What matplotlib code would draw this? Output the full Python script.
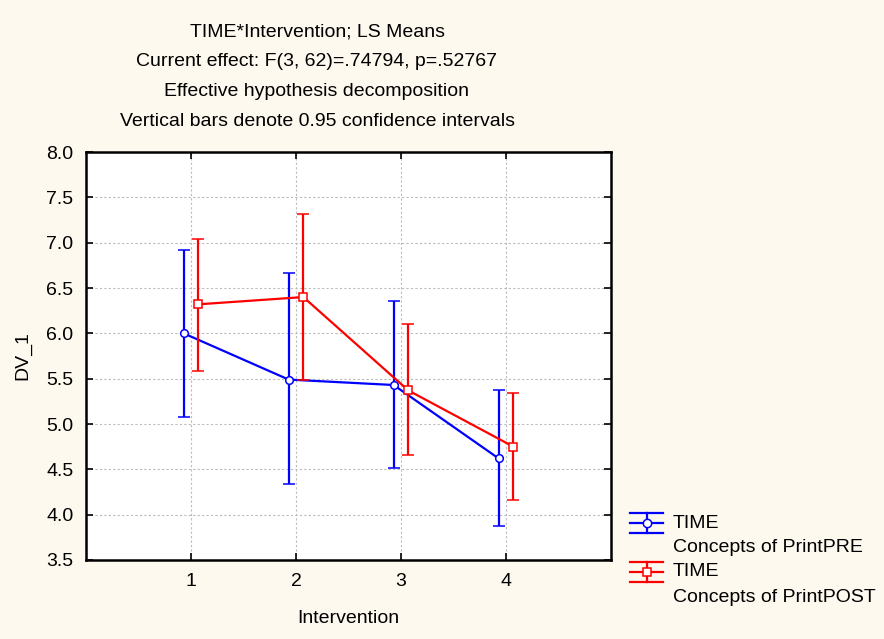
import matplotlib
matplotlib.use("Agg")
import matplotlib.pyplot as plt
from matplotlib.lines import Line2D
import numpy as np

plt.rcParams['font.family'] = ['Liberation Sans', 'DejaVu Sans']

interventions = [1, 2, 3, 4]
pre_mean = [6.00, 5.49, 5.43, 4.62]
pre_low = [5.08, 4.34, 4.52, 3.87]
pre_high = [6.92, 6.67, 6.36, 5.38]
post_mean = [6.32, 6.40, 5.37, 4.75]
post_low = [5.59, 5.49, 4.66, 4.16]
post_high = [7.04, 7.32, 6.10, 5.34]

title_lines = ["TIME*Intervention; LS Means",
               "Current effect: F(3, 62)=.74794, p=.52767",
               "Effective hypothesis decomposition",
               "Vertical bars denote 0.95 confidence intervals"]
labels = [("TIME", "Concepts of PrintPRE"), ("TIME", "Concepts of PrintPOST")]
colors = ['#0000FF', '#FF0000']
markers = ['o', 's']

W, H = 884, 639
bg = '#FEF9EE'
fig = plt.figure(figsize=(W/100, H/100), dpi=100, facecolor=bg)
ax = fig.add_axes([86/W, 1-560/H, (611-86)/W, (560-152)/H])
ax.set_facecolor('white')

x = np.array(interventions, dtype=float)
off = 0.07
series = [(pre_mean, pre_low, pre_high, -off), (post_mean, post_low, post_high, off)]
for i, (m, lo, hi, o) in enumerate(series):
    m = np.array(m)
    ax.errorbar(x + o, m, yerr=[m - np.array(lo), np.array(hi) - m],
                color=colors[i], lw=1.6, elinewidth=1.6, capsize=4, capthick=1.6,
                marker=markers[i], ms=5.5, mfc='white', mec=colors[i], mew=1.1,
                zorder=3 + i)

ax.set_xlim(0, 5)
ax.set_ylim(3.5, 8.0)
ax.set_xticks(interventions)
yt = np.arange(3.5, 8.01, 0.5)
ax.set_yticks(yt)
ax.set_yticklabels([f"{v:.1f}" for v in yt])
ax.tick_params(direction='in', length=5, width=1.2, top=True, right=True,
               labelsize=14, colors='black', pad=9)
ax.grid(True, linestyle=(0, (2, 2)), color='#BBBBBB', lw=0.8)
for s in ax.spines.values():
    s.set_linewidth(1.8)

ax.set_xlabel("Intervention", fontsize=14, labelpad=15)
ax.set_ylabel("DV_1", fontsize=14, labelpad=11)

ys = [32, 61, 92, 122]
for t, yy in zip(title_lines, ys):
    fig.text(317/W, 1 - yy/H, t, ha='center', va='center', fontsize=14)

# manual legend
def fx(px):
    return px / W

def fy(py):
    return 1 - py / H

for i, (l1, l2) in enumerate(labels):
    yc = 523 + i * 49
    c = colors[i]
    x0, x1, xm = 630, 663, 646.5
    for dy in (-10, 0, 10):
        fig.add_artist(Line2D([fx(x0), fx(x1)], [fy(yc + dy), fy(yc + dy)],
                              color=c, lw=1.6, transform=fig.transFigure))
    fig.add_artist(Line2D([fx(xm), fx(xm)], [fy(yc - 10), fy(yc + 10)],
                          color=c, lw=1.6, transform=fig.transFigure))
    fig.add_artist(Line2D([fx(xm)], [fy(yc)], marker=markers[i], ms=6,
                          mfc='white', mec=c, mew=1.1, linestyle='none',
                          transform=fig.transFigure))
    fig.text(fx(673), fy(yc), l1, ha='left', va='center', fontsize=14)
    fig.text(fx(673), fy(yc + 25), l2, ha='left', va='center', fontsize=14)

fig.savefig("out.png", dpi=100, facecolor=bg)
